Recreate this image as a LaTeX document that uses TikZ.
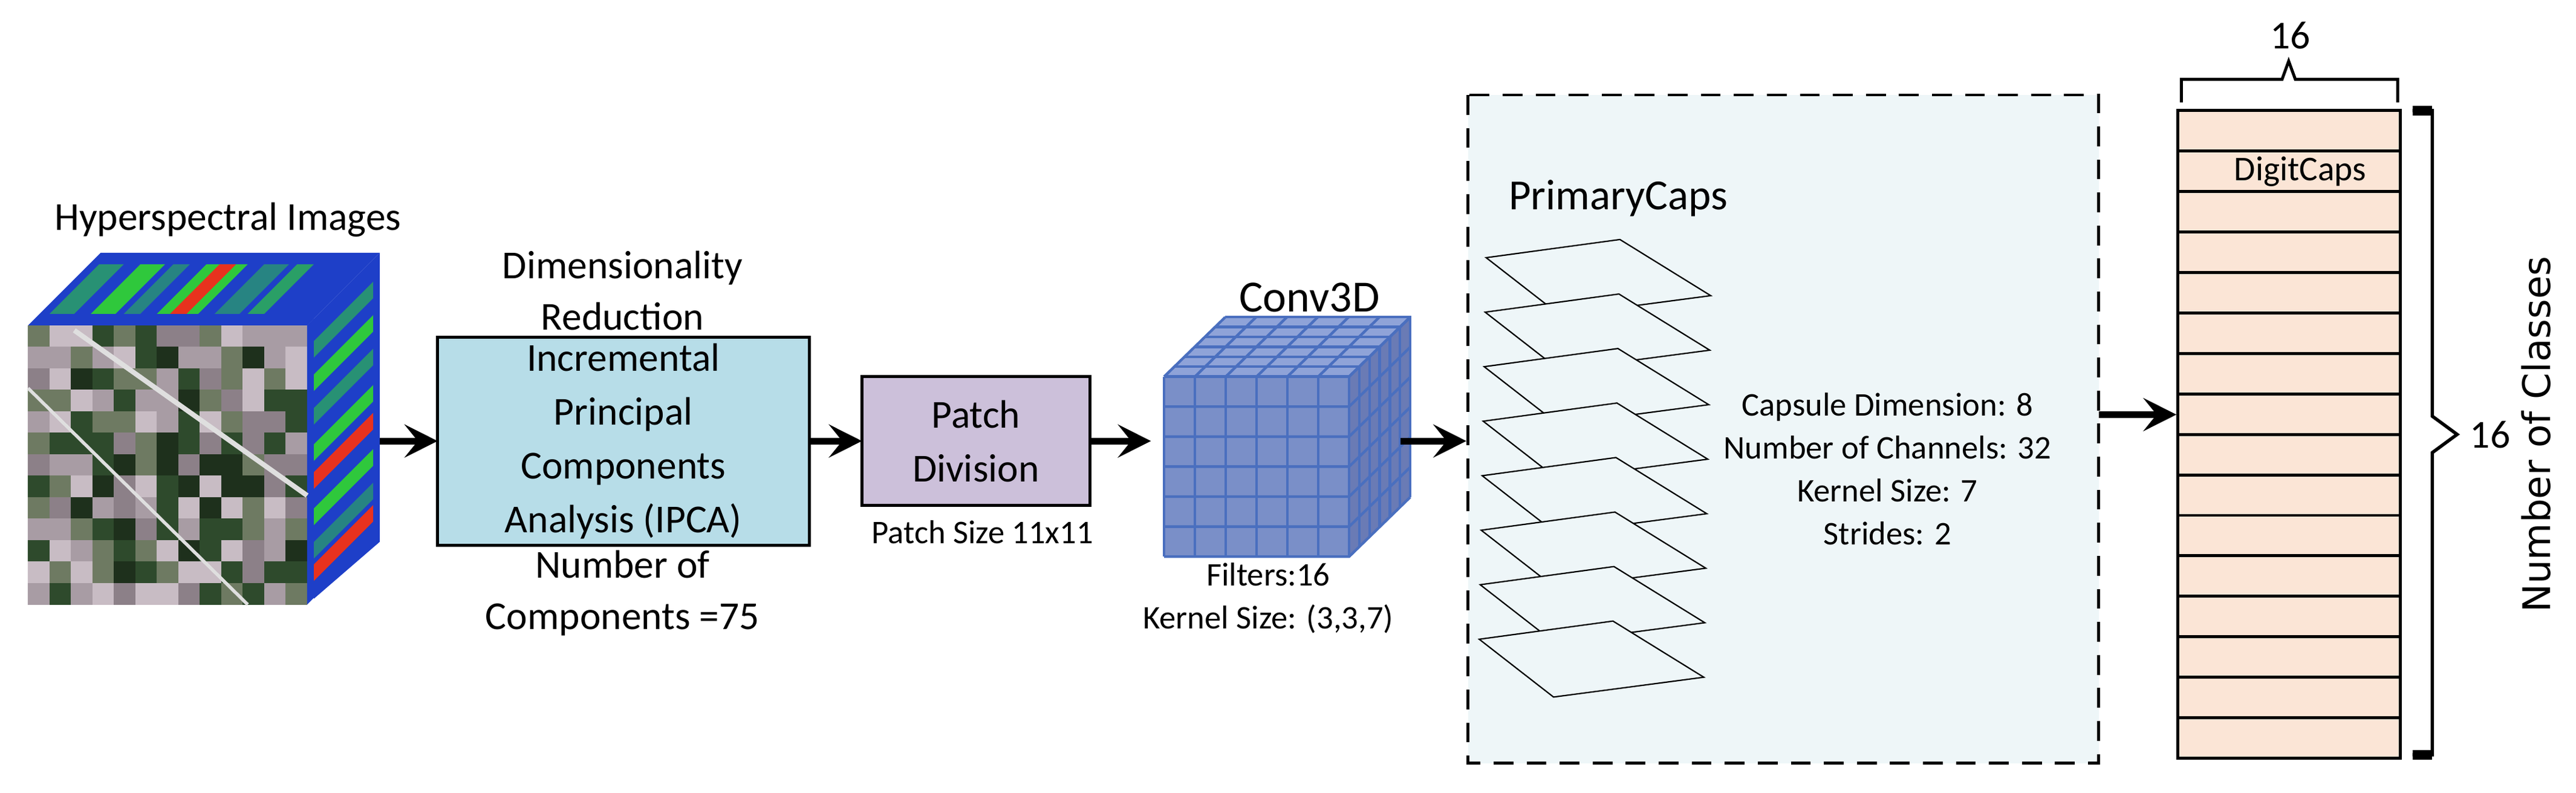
\documentclass[tikz,border=0pt]{standalone}
\usepackage{fontspec}
\setmainfont{Carlito}
\newfontfamily\dejavu{DejaVu Sans}
\usetikzlibrary{arrows.meta,calc}
\definecolor{ipca}{HTML}{B7DDE8}
\definecolor{patch}{HTML}{CCC0DA}
\definecolor{pcbg}{HTML}{EEF6F8}
\definecolor{dcap}{HTML}{FBE5D6}
\definecolor{cfront}{HTML}{7A8FC8}
\definecolor{ctop}{HTML}{8FA3D8}
\definecolor{cside}{HTML}{6A7BB5}
\definecolor{cline}{HTML}{4A6FBF}
\definecolor{hsblue}{HTML}{1E3FC8}
\definecolor{hsgreen}{HTML}{2FC83C}
\definecolor{hsred}{HTML}{E8321E}
\definecolor{px0}{HTML}{A89CA4}
\definecolor{px1}{HTML}{2E4A2C}
\definecolor{px2}{HTML}{C8BCC4}
\definecolor{px3}{HTML}{6E7A62}
\definecolor{px4}{HTML}{1E301C}
\definecolor{px5}{HTML}{8C8088}
\tikzset{
  flow/.style={line width=2pt,-{Stealth[length=10pt,width=10pt,inset=4pt]}},
  lbl/.style={align=center,inner sep=0pt,font=\fontsize{12}{15.5}\selectfont},
  boxtxt/.style={align=center,inner sep=0pt,font=\fontsize{12}{16.3}\selectfont},
  small/.style={align=center,inner sep=0pt,font=\fontsize{10}{13}\selectfont},
  plane/.style={draw,fill=pcbg,line width=0.4pt},
}
\begin{document}
\begin{tikzpicture}[x=0.5pt,y=-0.5pt]
\useasboundingbox (0,0) rectangle (1560,480);
% ---------- hyperspectral cube ----------
\fill[hsblue] (17,197) -- (61,153) -- (230,153) -- (186,197) -- cycle;
\foreach \a/\b/\c in {30/45/hsgreen!60!hsblue,55/70/hsgreen,75/85/hsgreen!50!hsblue,95/120/hsgreen,103/113/hsred,130/145/hsgreen!50!hsblue,150/160/hsgreen!70!hsblue}{
  \fill[\c] (\a,190) -- (\a+30,160) -- (\b+30,160) -- (\b,190) -- cycle;}
\fill[hsblue] (186,197) -- (230,153) -- (230,328) -- (186,366) -- cycle;
\foreach \t/\c in {0.08/hsgreen!60!hsblue,0.2/hsgreen,0.32/hsgreen!60!hsblue,0.45/hsgreen,0.55/hsred,0.68/hsgreen,0.8/hsgreen!50!hsblue,0.88/hsred}{
  \fill[\c] ($(186,197)!\t!(186,366)$) -- ++(40,-40) -- ++(0,10) -- ++(-40,40) -- cycle;}
\pgfmathsetseed{7}
\foreach \i in {0,...,12}{
  \foreach \j in {0,...,12}{
    \pgfmathtruncatemacro{\r}{random(0,5)}
    \fill[px\r] ({17+13*\i},{197+13*\j}) rectangle ++(13.1,13.1);
  }}
\fill[white] (186,197) rectangle (190,366);
\fill[hsblue] (186,197) -- (190,193) -- (190,362) -- (186,366) -- cycle;
\draw[gray!25,line width=1.5pt] (45,200) -- (186,300);
\draw[gray!25,line width=1pt] (17,235) -- (150,366);
\node[lbl] (hsi) at (138,133) {Hyperspectral Images};
\coordinate (cubeR) at (230,267);
% ---------- IPCA ----------
\node[lbl] (dimred) at (377,176) {Dimensionality\\Reduction};
\draw[line width=0.9pt,fill=ipca] (265,204) rectangle (490,330);
\node[boxtxt] (ipcat) at (377.5,267) {Incremental\\Principal\\Components\\Analysis (IPCA)};
\node[lbl] (ncomp) at (377,359) {Number of\\Components =75};
% ---------- Patch ----------
\draw[line width=0.9pt,fill=patch] (522,228) rectangle (660,306);
\node[boxtxt] (patch) at (591,267) {Patch\\Division};
\node[small] (psize) at (595,322) {Patch Size 11x11};
% ---------- Conv3D ----------
\begin{scope}[cline,line width=0.8pt]
\fill[ctop] (705,228) -- (742,192) -- (854,192) -- (817,228) -- cycle;
\fill[cside] (817,228) -- (854,192) -- (854,301) -- (817,337) -- cycle;
\fill[cfront] (705,228) rectangle (817,337);
\foreach \i in {0,...,6}{
  \draw ($(705,228)!\i/6!(817,228)$) -- ++(37,-36);
  \draw ($(705,228)!\i/6!(817,228)$) -- ++(0,109);
  \draw ($(705,228)!\i/6!(705,337)$) -- ++(112,0) -- ++(37,-36);
  \draw ($(705,228)!\i/6!(742,192)$) -- ++(112,0) -- ++(0,109);
}
\end{scope}
\node[font=\fontsize{13.5}{16}\selectfont,inner sep=0pt] (conv) at (793,180) {Conv3D};
\node[small] (convl) at (768,362) {Filters:16\\Kernel Size: (3,3,7)};
% ---------- PrimaryCaps ----------
\draw[line width=0.9pt,fill=pcbg,dash pattern=on 6pt off 4pt] (889,57.5) rectangle (1271,462);
\node[font=\fontsize{13}{16}\selectfont,inner sep=0pt] (pc) at (980,120) {PrimaryCaps};
\foreach \i in {0,...,7}{
  \draw[plane] ($(900,156)+(-0.6*\i,33*\i)$) -- ++(81,-11) -- ++(55,34) -- ++(-91,12) -- cycle;
}
\node[small] (pctext) at (1143,284) {Capsule Dimension: 8\\Number of Channels: 32\\Kernel Size: 7\\Strides: 2};
% ---------- DigitCaps ----------
\foreach \i in {0,...,15}{
  \draw[line width=0.9pt,fill=dcap] (1319,67+24.5*\i) rectangle (1453.5,91.5+24.5*\i);
}
\node[font=\fontsize{10.5}{13}\selectfont,inner sep=0pt] (dct) at (1393,104) {DigitCaps};
\draw[line width=0.9pt] (1321,62) -- (1321,48) -- (1382,48) -- (1386,37) -- (1390,48) -- (1452,48) -- (1452,62);
\node[lbl] (top16) at (1387,21.5) {16};
\draw[line width=1pt] (1461,67) -- (1473,67) -- (1473,252) -- (1488,263) -- (1473,274) -- (1473,457) -- (1461,457);
\draw[line width=3pt] (1461,67) -- (1473,67) (1461,457) -- (1473,457);
\node[lbl] (r16) at (1508,263) {16};
\node[rotate=90,inner sep=0pt,font=\dejavu\fontsize{11.5}{14}\selectfont] (noc) at (1536,263) {Number of Classes};
% ---------- arrows ----------
\draw[flow] (cubeR) -- (265,267);
\draw[flow] (490,267) -- (522,267);
\draw[flow] (660,267) -- (697,267);
\draw[flow] (848,267) -- (888,267);
\draw[flow] (1271,251) -- (1318,251);
\end{tikzpicture}
\end{document}
